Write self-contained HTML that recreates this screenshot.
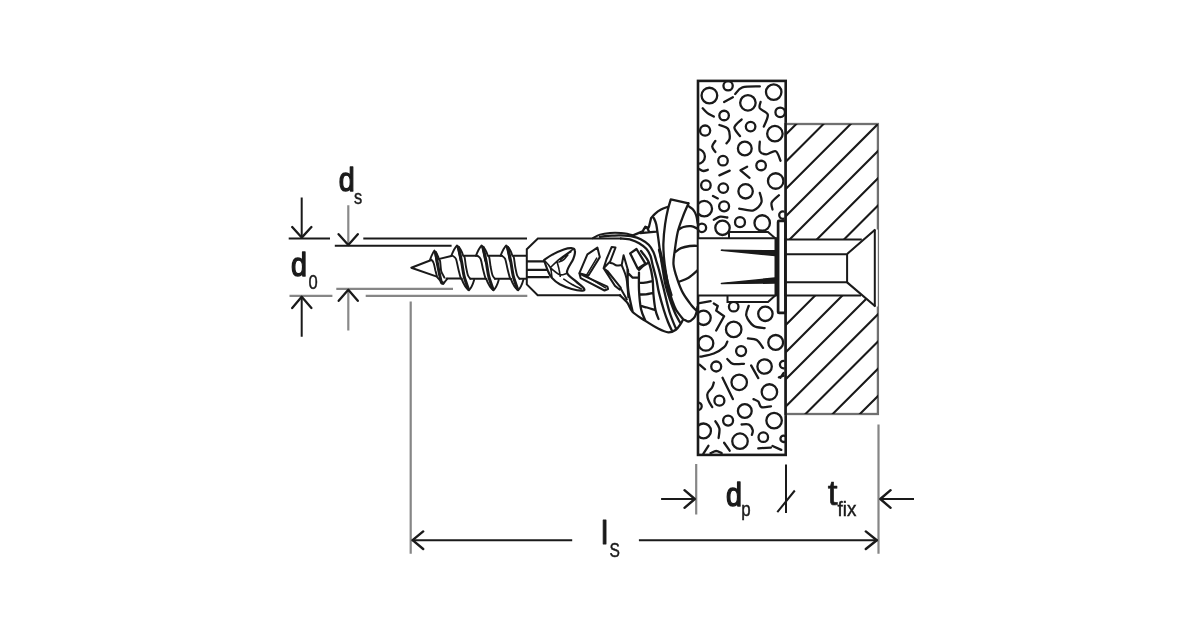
<!DOCTYPE html>
<html>
<head>
<meta charset="utf-8">
<title>Drawing</title>
<style>
html,body{margin:0;padding:0;background:#fff;}
body{width:1200px;height:630px;overflow:hidden;}
svg{display:block;will-change:transform;}
text{font-family:"Liberation Sans",sans-serif;fill:#1a1a1a;}
.b{font-weight:bold;}
.s{stroke:#1a1a1a;stroke-width:0.45;}
.m{stroke:#1a1a1a;stroke-width:1.4;stroke-linejoin:round;}
.k{stroke:#1a1a1a;stroke-width:2;fill:none;stroke-linecap:butt;stroke-linejoin:miter;}
.g{stroke:#868686;stroke-width:2.2;fill:none;}
.w{fill:#fff;}
.r{stroke-linecap:round;stroke-linejoin:round;}
</style>
</head>
<body>
<svg width="1200" height="630" viewBox="0 0 1200 630">
<rect width="1200" height="630" fill="#fff"/>

<!-- ===== dimension lines left ===== -->
<g id="dims-left">
<path class="k" d="M288.7 238.5H330M363.3 238.5H527M334.8 245.8H451.6"/>
<path class="g" d="M289.5 295.9H332.4M365.7 295.9H527.3M336.3 288.8H453"/>
<path class="k" d="M301.7 197.6V237.5M301.7 336.8V296.5"/>
<path class="g" style="stroke:#8a8a8a" d="M348.3 205.2V244.5M348.3 330.5V290"/>
<path class="k r" style="stroke-width:2.3" d="M292.2 227L301.7 237.6L311.4 227M338.6 234.2L348.3 245L357.8 234.2M292.2 308L301.7 296.8L311.4 308M338.7 300.8L348.3 289.8L357.8 300.8"/>
</g>

<!-- ===== dimension lines bottom ===== -->
<g id="dims-bottom">
<path class="g" d="M410.7 301.5V553.7M878.5 424.5V553.7M696.2 464V514.5"/>
<path class="k" d="M786 464.6V513M777.3 512.2L794.8 490.5"/>
<path class="k" d="M411.8 540.2H572.2M638.9 540.2H877.6M661.1 499H695M914 499H880"/>
<path class="k r" style="stroke-width:2.4" d="M423.2 531.4L412.6 540.2L423.2 549M865.8 531.4L876.8 540.2L865.8 549M684.5 490.2L694.8 499L684.5 507.8M890.6 490.2L880.3 499L890.6 507.8"/>
</g>

<!-- ===== labels ===== -->
<g id="labels">
<text class="m" x="338.8" y="191.3" font-size="33.6" textLength="16" lengthAdjust="spacingAndGlyphs">d</text>
<text class="s" x="353.9" y="203.8" font-size="19.5" textLength="8.2" lengthAdjust="spacingAndGlyphs">s</text>
<text class="m" x="290.9" y="276.3" font-size="33.6" textLength="16" lengthAdjust="spacingAndGlyphs">d</text>
<text class="s" x="308.4" y="288.6" font-size="20" textLength="9.2" lengthAdjust="spacingAndGlyphs">0</text>
<text class="m" x="726.1" y="505.5" font-size="33.6" textLength="16" lengthAdjust="spacingAndGlyphs">d</text>
<text class="s" x="741.3" y="515.8" font-size="19.5" textLength="9.4" lengthAdjust="spacingAndGlyphs">p</text>
<text x="827.7" y="505.2" font-size="35.4" textLength="9.8" lengthAdjust="spacingAndGlyphs" style="stroke:#1a1a1a;stroke-width:0.7;stroke-linejoin:round">t</text>
<text class="s" x="837.6" y="516" font-size="19.5" textLength="18.8" lengthAdjust="spacingAndGlyphs">fix</text>
<text class="m" x="601.1" y="544" font-size="32.8" textLength="7.2" lengthAdjust="spacingAndGlyphs" style="stroke-width:0.9">l</text>
<text class="s" x="609.5" y="557" font-size="20" textLength="10.4" lengthAdjust="spacingAndGlyphs">S</text>
</g>

<!-- SCREW:begin --><g id="screw"><path class="w k r" d="M431.3 260L411.3 267.7L438.3 277.1"/><path class="w" d="M432 259.8L439.4 258.9L452 256H526.6V278.7H447L438.3 277.1Z"/><path class="w" d="M430.1 259.6L432.0 254.1L434.4 250.6L437.1 254.1L439.0 259.6L440.8 269.6L442.6 274.1L447.2 278.8L445.8 279.9L443.3 283.9L440.0 278.9L437.9 277.6L435.4 270.6L433.6 262.6ZM451.3 255.8L453.8 249.7L457.0 245.5L460.6 249.0L463.2 255.8L465.5 265.8L468.0 275.2L474.1 279.9L472.2 286.3L468.9 290.3L464.5 285.3L461.7 278.7L458.4 269.2L456.0 258.8ZM475.9 255.8L478.4 249.7L481.6 245.5L485.2 249.0L487.8 255.8L490.1 265.8L492.6 275.2L498.7 279.9L496.8 286.3L493.5 290.3L489.1 285.3L486.3 278.7L483.0 269.2L480.6 258.8ZM500.5 255.8L503.0 249.7L506.2 245.5L509.8 249.0L512.4 255.8L514.7 265.8L517.2 275.2L523.3 279.9L521.4 286.3L518.1 290.3L513.7 285.3L510.9 278.7L507.6 269.2L505.2 258.8Z"/><path class="k r" style="stroke-width:1.9" d="M430.1 259.6Q432.4 253.1 434.4 250.6Q437.5 253.6 439.0 259.6M439.0 259.6C439.2 259.8 439.7 259.2 440.1 261.0C440.4 262.8 440.7 268.4 441.1 270.6C441.6 272.8 442.0 273.0 442.6 274.2C443.1 275.4 444.1 277.0 444.4 277.6M431.2 259.6C431.6 260.1 432.9 261.0 433.6 262.8C434.4 264.6 434.8 268.2 435.4 270.6C436.1 273.0 436.8 275.8 437.2 277.0C437.7 278.2 437.8 277.8 437.9 278.0M437.9 278.0Q440.2 280.9 443.3 283.9Q445.8 280.4 447.2 278.8M434.8 252.1C435.1 253.2 435.8 256.5 436.2 258.6C436.6 260.7 436.9 263.6 437.1 264.6M451.3 255.8Q454.4 248.0 457.0 245.5Q461.2 248.5 463.2 255.8M463.2 255.8C463.4 256.0 464.1 255.4 464.6 257.2C465.1 259.0 465.4 263.8 466.0 266.8C466.6 269.8 467.2 273.3 467.9 275.3C468.6 277.3 469.9 278.1 470.3 278.7M452.7 255.8C453.2 256.3 455.1 256.8 456.0 259.0C456.9 261.2 457.6 266.1 458.4 269.2C459.2 272.4 460.2 276.5 460.8 278.1C461.4 279.7 461.6 278.9 461.7 279.1M461.7 279.1Q464.8 287.3 468.9 290.3Q472.2 286.8 474.1 279.9M457.6 247.0C457.9 248.3 458.9 252.5 459.4 254.8C459.9 257.1 460.4 259.8 460.6 260.8M475.9 255.8Q479.0 248.0 481.6 245.5Q485.8 248.5 487.8 255.8M487.8 255.8C488.0 256.0 488.7 255.4 489.2 257.2C489.7 259.0 490.1 263.8 490.6 266.8C491.2 269.8 491.8 273.3 492.5 275.3C493.2 277.3 494.5 278.1 494.9 278.7M477.3 255.8C477.9 256.3 479.7 256.8 480.6 259.0C481.6 261.2 482.2 266.1 483.0 269.2C483.8 272.4 484.9 276.5 485.4 278.1C486.0 279.7 486.2 278.9 486.3 279.1M486.3 279.1Q489.4 287.3 493.5 290.3Q496.8 286.8 498.7 279.9M482.2 247.0C482.5 248.3 483.5 252.5 484.0 254.8C484.5 257.1 485.0 259.8 485.2 260.8M500.5 255.8Q503.6 248.0 506.2 245.5Q510.4 248.5 512.4 255.8M512.4 255.8C512.6 256.0 513.3 255.4 513.8 257.2C514.3 259.0 514.7 263.8 515.2 266.8C515.8 269.8 516.4 273.3 517.1 275.3C517.8 277.3 519.1 278.1 519.5 278.7M501.9 255.8C502.4 256.3 504.2 256.8 505.2 259.0C506.1 261.2 506.8 266.1 507.6 269.2C508.4 272.4 509.4 276.5 510.0 278.1C510.6 279.7 510.8 278.9 510.9 279.1M510.9 279.1Q514.0 287.3 518.1 290.3Q521.4 286.8 523.3 279.9M506.8 247.0C507.1 248.3 508.1 252.5 508.6 254.8C509.1 257.1 509.6 259.8 509.8 260.8"/><path class="k r" style="stroke-width:3" d="M435.6 252.6C436.0 254.8 437.2 261.9 437.8 265.6C438.5 269.4 439.1 272.3 439.7 275.1C440.3 277.9 441.0 281.3 441.5 282.6C442.1 283.9 442.7 282.8 442.9 282.9M458.6 247.5C459.1 249.9 460.7 257.0 461.6 261.8C462.5 266.6 463.3 272.6 464.1 276.2C464.9 279.8 465.8 281.5 466.5 283.7C467.2 285.9 468.1 288.4 468.4 289.3M483.2 247.5C483.7 249.9 485.3 257.0 486.2 261.8C487.1 266.6 487.9 272.6 488.7 276.2C489.5 279.8 490.4 281.5 491.1 283.7C491.8 285.9 492.7 288.4 493.0 289.3M507.8 247.5C508.3 249.9 509.9 257.0 510.8 261.8C511.7 266.6 512.5 272.6 513.3 276.2C514.1 279.8 515.0 281.5 515.7 283.7C516.4 285.9 517.3 288.4 517.6 289.3"/><path class="k r" d="M439.4 258.9L451.3 256.0M446.5 278.6H461.7M464.2 255.8H477.3M470.3 278.7H486.3M488.8 255.8H501.9M494.9 278.7H510.9M513.4 255.8H526.6M519.5 278.7H526.6"/></g><!-- SCREW:end -->
<!-- PLUG:begin --><g id="plug"><path class="w k" d="M621 238.5H537.9L526.8 249.2V284.4L537.7 295.3H621"/><path class="k" style="stroke-width:2.3" d="M527 261.3H544.5M527 269.9H549M527 277.2H549.5"/><path class="w k r" style="stroke-width:2.2" d="M544.0 260.1C545.3 259.2 548.6 256.7 551.9 254.9C555.2 253.1 560.5 250.6 563.8 249.5C567.1 248.4 569.9 247.9 571.7 248.2C573.6 248.4 574.7 249.2 574.9 250.9C575.2 252.7 574.7 255.3 573.3 258.9C572.0 262.4 566.6 268.7 567.0 272.4C567.4 276.1 572.9 278.4 575.7 281.1C578.5 283.7 582.5 286.7 583.7 288.2C584.8 289.8 584.8 290.5 582.9 290.6C580.9 290.8 575.6 290.1 571.7 289.0C567.9 288.0 563.1 286.1 559.8 284.3C556.5 282.4 553.9 280.2 551.9 277.9C549.9 275.7 549.3 273.8 547.9 270.8C546.6 267.8 544.6 261.8 544.0 260.1Z"/><path class="k r" style="stroke-width:1.6" d="M544.4 260.5C545.4 261.7 549.1 264.8 550.3 267.6C551.6 270.4 551.6 275.5 551.9 277.1M550.3 267.6C551.9 266.1 556.1 261.8 559.8 258.9C563.5 255.9 570.4 251.3 572.5 249.7M557.1 262.0C557.4 263.2 558.5 266.8 559.0 269.2C559.6 271.6 560.0 275.1 560.2 276.3M551.1 268.4C552.6 269.5 557.3 273.9 559.8 274.7C562.4 275.6 565.1 273.8 566.2 273.6M560.6 259.7C561.6 258.9 564.5 256.2 566.2 254.9C567.9 253.6 570.2 252.3 571.0 251.7M563.8 279.1C565.1 280.0 568.8 282.6 571.7 284.3C574.7 285.9 579.7 288.2 581.3 289.0M559.0 262.0C559.8 261.7 562.4 260.9 563.8 259.7C565.3 258.5 567.1 255.7 567.8 254.9"/><path class="w k r" d="M587.4 254.3L597.4 247.6L599.8 257.1L588.3 275.7L579.3 273.3ZM579.3 273.3L584.5 276.2L607.4 286.7L608.1 289.0L604.5 290.5L580.7 278.1Z"/><path class="k r" style="stroke-width:1.5" d="M596.7 258.1L586.4 275.4M588.3 277.3L605.5 287.8"/><path class="w k r" d="M611.7 246.9L615.5 247.6L610.2 261.4L603.6 268.3L606.6 259.0ZM603.6 268.3L607.4 271.0L620.7 287.6L619.8 289.7L615.0 285.9Z"/><path class="k r" d="M610.2 262.9C610.7 263.0 612.0 263.2 613.1 263.6C614.2 264.1 615.5 265.3 616.9 265.5C618.3 265.7 620.9 265.0 621.7 265.0M621.7 265.0L623.6 255.2L628.3 271.4M621.7 265.2C622.5 267.4 625.3 272.8 626.4 278.1C627.5 283.4 628.0 294.0 628.3 297.1M620.7 288.6L626.9 299.5"/><path class="k r" d="M592.9 238.2C594.1 237.6 597.1 235.5 600.0 234.6C602.9 233.7 606.5 233.2 610.0 232.9C613.5 232.6 617.9 232.7 620.9 232.9C623.9 233.1 626.0 233.6 628.0 234.0C630.0 234.4 632.2 235.2 633.0 235.4"/><path class="k r" style="stroke-width:2.3" d="M688.6 203.3C687.6 205.5 684.7 211.8 682.9 216.6C681.1 221.3 679.1 226.3 677.8 231.8C676.5 237.3 675.6 244.2 674.9 249.6C674.2 255.0 673.1 259.5 673.5 264.3C673.9 269.1 675.5 273.8 677.1 278.6C678.7 283.4 680.5 288.5 682.9 292.9C685.3 297.3 689.1 302.2 691.4 305.2C693.7 308.2 695.9 309.9 696.8 310.8M670.8 199.4C670.3 201.0 669.0 204.9 668.0 209.0C667.0 213.1 665.9 218.5 665.1 224.2C664.3 229.9 663.6 237.7 663.4 243.3C663.2 248.9 663.6 253.6 664.0 258.0C664.4 262.4 664.7 265.0 665.5 270.0C666.3 275.0 667.5 283.0 668.6 288.0C669.7 293.0 670.7 296.3 672.0 300.0C673.3 303.7 674.3 306.7 676.2 310.0C678.1 313.3 682.3 318.0 683.5 319.6M653.7 217.9C654.1 218.9 655.5 221.0 656.2 224.2C656.9 227.4 657.4 231.8 658.1 236.9C658.8 242.0 659.7 249.5 660.4 254.7C661.1 259.9 661.6 262.9 662.5 268.0C663.4 273.1 664.2 279.7 665.5 285.0C666.8 290.3 668.4 295.3 670.0 300.0C671.6 304.7 673.2 309.1 675.0 313.0C676.8 316.9 679.6 321.8 680.5 323.5M600.0 236.8C602.0 236.6 608.5 235.9 612.0 235.7C615.5 235.5 617.4 235.2 620.9 235.4C624.4 235.6 629.5 235.9 632.8 236.6C636.1 237.2 638.1 237.9 640.7 239.3C643.4 240.7 646.6 242.7 648.7 244.8C650.8 246.9 652.2 249.5 653.4 252.0C654.6 254.5 655.1 257.0 656.0 260.0C656.9 263.0 657.8 265.3 659.0 270.0C660.2 274.7 661.8 281.0 663.5 288.0C665.2 295.0 667.4 305.2 669.5 312.0C671.6 318.8 674.8 325.8 675.9 328.5M620.9 238.5C622.6 238.7 628.2 239.0 631.2 239.8C634.2 240.6 636.6 241.8 639.1 243.3C641.6 244.8 644.4 246.7 646.3 248.8C648.2 250.9 649.5 253.3 650.5 256.0C651.5 258.6 651.6 260.9 652.6 264.7C653.6 268.5 655.1 273.9 656.2 278.6C657.3 283.3 657.7 287.7 659.0 292.9C660.3 298.1 662.3 305.1 663.8 310.0C665.3 314.9 666.6 318.5 668.0 322.0C669.4 325.5 671.4 329.5 672.1 331.0M641.0 251.0C641.8 252.1 644.6 255.3 646.0 257.5C647.4 259.7 648.4 260.9 649.5 264.3C650.6 267.7 651.8 272.9 652.5 278.0C653.2 283.1 653.0 289.7 653.5 295.0C654.0 300.3 654.7 306.0 655.5 310.0C656.3 314.0 658.0 317.5 658.5 319.0M620.0 295.4C621.3 296.7 625.5 300.3 627.6 303.1C629.7 305.9 629.7 309.0 632.7 312.0C635.7 315.0 641.2 318.1 645.4 320.9C649.6 323.6 654.3 326.6 658.1 328.5C661.9 330.4 665.3 332.1 668.3 332.3C671.3 332.5 673.8 331.3 675.9 329.8C678.0 328.3 679.7 325.1 681.0 323.4C682.3 321.7 682.2 319.9 683.5 319.6C684.8 319.3 686.9 321.7 688.6 321.5C690.3 321.3 692.4 319.7 693.7 318.3C695.0 316.9 695.6 315.2 696.2 313.3C696.8 311.4 697.3 308.1 697.5 307.0M670.8 199.4L688.6 203.3M688.6 206.2C689.3 206.8 691.7 208.0 693.0 209.5C694.3 211.0 695.4 213.1 696.2 215.3C697.0 217.6 697.5 221.7 697.7 223.0M678.2 229.9C679.1 229.4 681.4 227.6 683.5 227.0C685.6 226.4 688.6 225.9 691.0 226.2C693.4 226.5 696.6 228.3 697.7 228.7M675.2 252.1C676.2 251.4 678.6 249.1 681.0 248.1C683.4 247.1 687.0 246.4 689.8 246.0C692.6 245.6 696.4 245.8 697.7 245.8M679.7 281.5C681.2 280.9 685.6 279.6 688.6 277.7C691.6 275.8 696.2 271.4 697.7 270.1M668.0 206.7C666.8 207.2 663.2 208.4 661.0 209.6C658.8 210.8 656.6 212.4 655.0 213.8C653.4 215.2 651.8 217.4 651.1 218.1M651.1 218.1L649.0 226.7L648.2 228.3L645.4 226.7L642.6 231.4L633.0 235.4M640.3 233.1L656.2 231.6M644.1 228.5L646.9 227.3L649.0 231.6M630.2 253.4L636.5 249.0L645.4 263.6L637.8 268.7ZM627.6 270.0C627.7 273.4 627.4 283.4 628.3 290.4C629.1 297.4 632.0 308.4 632.7 312.0M639.0 272.6C639.0 275.5 638.7 283.9 639.0 290.0C639.3 296.1 639.9 303.9 641.0 309.0C642.1 314.1 644.7 318.9 645.4 320.9M639.0 282.8C640.0 282.8 642.9 282.9 645.0 282.6C647.1 282.3 650.8 281.4 651.9 281.2M639.2 294.5C640.3 294.5 643.7 294.6 646.0 294.4C648.3 294.1 651.8 293.2 653.0 293.0M640.8 305.9C641.8 306.2 644.7 306.9 647.0 307.5C649.3 308.1 653.2 309.4 654.5 309.8M639.0 270.0C639.7 269.3 641.4 267.2 643.0 266.0C644.6 264.8 647.6 263.1 648.5 262.5M627.6 272.6L632.7 277.7L639.0 277.7"/><path class="k r" style="stroke-width:3.2" d="M659.5 250.0C660.0 252.0 661.6 258.3 662.5 262.0C663.4 265.7 664.1 268.2 665.0 272.0C665.9 275.8 667.0 281.2 668.0 285.0C669.0 288.8 670.5 293.3 671.0 295.0"/></g><!-- PLUG:end -->
<!-- ===== board ===== -->
<defs>
<clipPath id="cb"><path d="M698 81H785V238H698ZM698 295.4H785V455H698Z"/></clipPath>
<clipPath id="cf"><path d="M786 124H878V230L861.4 239.5H786ZM786 302L792 295.4H861.4L878 306.5V414H786Z"/></clipPath>
</defs>
<g id="board">
<rect x="698" y="80.9" width="87.7" height="374" fill="#fff" stroke="#1a1a1a" stroke-width="2.6"/>
<g clip-path="url(#cb)" class="k r" style="stroke-width:2.3"><circle cx="709.4" cy="95.6" r="7.84"/><circle cx="728.1" cy="85.8" r="4.66"/><circle cx="773.7" cy="92.1" r="7.74"/><circle cx="747.9" cy="102.8" r="7.74"/><circle cx="780.2" cy="112.3" r="4.77"/><circle cx="724.1" cy="115.5" r="4.77"/><circle cx="750.6" cy="126.6" r="4.77"/><circle cx="705.1" cy="130.6" r="5.09"/><circle cx="774.9" cy="133.7" r="7.74"/><circle cx="744.8" cy="148.5" r="6.89"/><circle cx="723" cy="160.7" r="4.77"/><circle cx="761.1" cy="165.5" r="4.77"/><circle cx="697.5" cy="156.5" r="7.42"/><circle cx="775.7" cy="181" r="7.74"/><circle cx="705.9" cy="185.2" r="4.77"/><circle cx="723.3" cy="188.1" r="4.77"/><circle cx="745.6" cy="191.3" r="7.21"/><circle cx="724.1" cy="206.3" r="4.98"/><circle cx="704.3" cy="208.7" r="7.74"/><circle cx="740" cy="222.2" r="4.98"/><circle cx="762.2" cy="223" r="7.74"/><circle cx="722.5" cy="227.8" r="7.21"/><circle cx="701.9" cy="227.8" r="4.24"/><circle cx="782.9" cy="215.1" r="3.71"/><circle cx="733.7" cy="306.7" r="4.77"/><circle cx="765.4" cy="313.8" r="7.21"/><circle cx="703.5" cy="317.8" r="7.21"/><circle cx="733.7" cy="329.4" r="7.74"/><circle cx="705.9" cy="343.2" r="7.42"/><circle cx="775.7" cy="342.4" r="7.42"/><circle cx="741.1" cy="351.1" r="4.98"/><circle cx="716.2" cy="366.5" r="4.98"/><circle cx="764.6" cy="366.5" r="7.21"/><circle cx="739.2" cy="382.3" r="7.74"/><circle cx="783.6" cy="364.6" r="3.71"/><circle cx="719.4" cy="400.7" r="4.98"/><circle cx="769.4" cy="392" r="7.74"/><circle cx="744.8" cy="411" r="6.89"/><circle cx="728.1" cy="420.6" r="4.98"/><circle cx="774.1" cy="420.6" r="7.74"/><circle cx="703.5" cy="430.9" r="7.42"/><circle cx="740" cy="441.2" r="7.74"/><circle cx="763.3" cy="437.2" r="4.77"/><circle cx="698" cy="406.3" r="3.71"/><circle cx="783.6" cy="438.8" r="3.18"/><path d="M735.2 94.0C736.4 92.9 738.3 88.7 742.4 87.4C746.5 86.1 756.9 86.6 759.8 86.4M724.12 101.98L732.85 97.22M702.7 108.3C703.5 109.1 705.6 111.7 707.5 113.1C709.3 114.5 712.8 116.0 713.8 116.6M719.4 125.0C720.8 125.7 726.4 126.7 728.1 129.0C729.8 131.2 729.9 136.1 729.7 138.5C729.4 140.9 727.0 142.5 726.5 143.3M741.6 119.4C740.4 120.8 734.7 124.6 734.4 127.4C734.2 130.2 739.1 134.7 740.0 136.1M760.6 102.0C760.5 103.0 758.7 106.2 759.8 108.3C761.0 110.4 767.1 111.6 767.8 114.7C768.4 117.7 764.5 124.6 763.8 126.6M715.4 140.9C714.9 141.8 712.2 144.6 712.2 146.4C712.2 148.3 714.9 151.1 715.4 152.0M759.8 141.7C759.8 143.3 758.8 149.1 759.8 151.2C760.9 153.3 763.5 154.4 766.2 154.4C768.8 154.4 773.3 150.1 775.7 151.2C778.1 152.2 779.7 159.1 780.5 160.7M698.7 168.7C699.5 169.1 702.0 170.8 703.5 171.0C705.0 171.1 707.1 170.0 707.8 169.8M719.36 175.39L729.68 170.63M713.01 196.03L717.77 198.41M759.8 192.9C760.1 194.4 762.5 199.5 761.4 202.4C760.4 205.3 757.2 209.3 753.5 210.3C749.8 211.4 741.6 209.0 739.2 208.7M778.9 195.2C777.7 196.4 772.8 200.0 771.7 202.4C770.7 204.8 772.4 208.3 772.5 209.5M713.8 219.8C714.9 219.3 717.9 217.1 720.2 216.7C722.4 216.3 726.1 217.3 727.3 217.5M747.1 166.7L740.5 170.3L749.5 177.8M713.8 303.5L717.8 305.9L716.2 310.6L724.1 316.2L716.2 330.5M748.7 305.9C748.3 307.5 745.6 312.1 746.3 315.4C747.1 318.7 750.4 323.6 753.5 325.7C756.5 327.8 762.8 327.7 764.6 328.1M700.3 356.7C702.6 356.1 709.8 355.1 713.8 353.5C717.8 351.9 721.9 349.1 724.1 347.1C726.4 345.2 726.8 342.5 727.3 341.6M747.9 338.4C749.4 338.7 754.2 338.4 756.7 340.0C759.2 341.6 762.0 346.6 763.0 347.9M727.3 359.0C728.2 359.8 730.1 363.0 732.9 363.8C735.6 364.6 742.1 363.8 744.0 363.8M751.11 365.39L758.25 378.09M699.52 364.60L705.07 369.36M710.63 301.11L697.93 303.49M778.88 377.30L783.65 375.71M713.8 382.5C713.5 383.3 713.3 385.4 712.2 387.2C711.2 389.1 708.1 391.5 707.5 393.6C706.8 395.7 707.5 397.7 708.3 399.9C709.0 402.2 711.6 405.9 712.2 407.1M722.53 377.69L732.85 399.12M753.5 399.1C754.3 399.5 756.9 400.2 758.3 401.5C759.6 402.8 759.3 406.3 761.4 407.1C763.5 407.9 769.4 406.4 771.0 406.3M741.6 424.5C742.8 424.5 746.9 423.6 748.7 424.5C750.6 425.4 752.2 428.4 752.7 430.1C753.2 431.8 752.0 434.0 751.9 434.8M715.4 421.3C716.1 422.5 718.8 425.7 719.4 428.5C719.9 431.3 718.7 436.4 718.6 438.0M758.25 448.33L770.95 447.53M772.53 445.95L781.26 449.92M703.4 453.6L708.4 445.8M710.6 453.1C711.6 452.8 714.3 451.0 716.2 451.0C718.0 451.0 720.8 452.8 721.7 453.1M724.12 442.77L729.68 450.71M783.65 372.93L780.47 377.69"/></g>
</g>
<!-- ===== fixture ===== -->
<g id="fixture">
<rect x="785.7" y="124" width="92.2" height="290" fill="#fff" stroke="#707070" stroke-width="2.3"/>
<g clip-path="url(#cf)"><path class="k" style="stroke-width:2.1" d="M785 135.3L879.5 40.8M785 162.5L879.5 68.0M785 189.7L879.5 95.2M785 216.9L879.5 122.4M785 244.1L879.5 149.6M785 271.3L879.5 176.8M785 298.5L879.5 204.0M785 325.7L879.5 231.2M785 352.9L879.5 258.4M785 380.1L879.5 285.6M785 407.3L879.5 312.8M785 434.5L879.5 340.0M785 461.7L879.5 367.2M785 488.9L879.5 394.4"/></g>
<path class="k" style="stroke-width:2.3" d="M785.7 123V415"/>
</g>
<!-- ===== hole / sleeve / screw head ===== -->
<g id="hole">
<path class="w" d="M698.7 238.2H786V239.5H861.4L875.3 229.5H877.8V306.5H875.3L861.4 295.4H698.7Z"/>
<path class="k" d="M786 239.5H861.8M786 295.4H861"/>
<path class="w k" d="M729 238.2V232H768L775.2 238.2M727.5 295.4V302H768L775.2 295.4"/>
<path class="k" d="M698 238.2H775.5M698 295.4H775.5"/><path class="k" style="stroke-width:3" d="M776 237.2V296.4"/>
<path d="M721.4 250.2L775 250.8V255.6ZM721.4 283.6L775 278V283Z" fill="#1a1a1a" stroke="#1a1a1a" stroke-width="1.5" stroke-linejoin="round"/>
<rect class="w k" x="778.1" y="220.9" width="7.3" height="92" rx="1" style="stroke-width:2.7"/>
<path class="k" style="stroke-width:2.6" d="M785.5 238V296"/>
<path class="k" d="M785.3 254.3H847.1V282.2H785.3"/>
<path class="k" style="stroke-width:2.1" d="M847.1 254L875.3 229.5M847.1 282.4L875.5 306.5"/>
<path class="k" d="M874.8 229.5V306.5"/>
</g>

</svg>
</body>
</html>
